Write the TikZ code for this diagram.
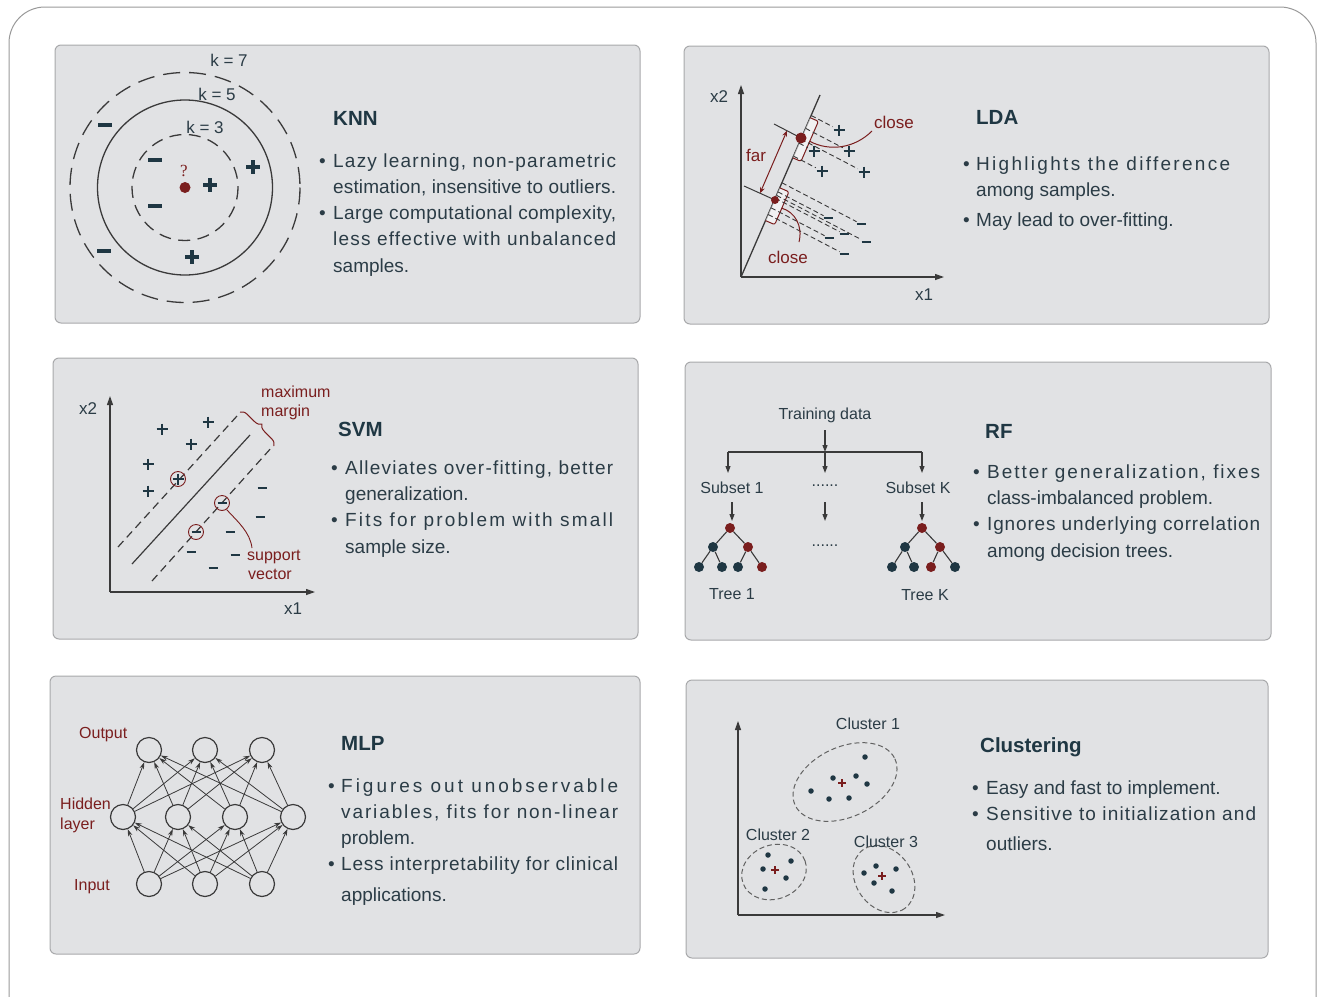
\documentclass[tikz,border=0pt]{standalone}
\usepackage{fontspec}
\setmainfont{Liberation Sans}
\newfontfamily\qfont{Liberation Serif}
\usetikzlibrary{arrows.meta,decorations.pathreplacing,calc}
\definecolor{pfill}{HTML}{E1E2E4}
\definecolor{pborder}{HTML}{A8A9AB}
\definecolor{ink}{HTML}{2B3C46}
\definecolor{mk}{HTML}{1F3743}
\definecolor{dred}{HTML}{7A1E1E}
\definecolor{ln}{HTML}{3A3A3A}
\newlength\jwa
\newlength\jwb
\newcommand\jline[2]{%
  \setbox0\hbox{#2}\global\jwa=\wd0
  \setbox0\hbox{\addfontfeature{LetterSpace=10}#2}\global\jwb=\wd0
  \pgfmathsetmacro\jls{10*(#1-\jwa)/(\jwb-\jwa)}%
  \makebox[#1pt][s]{\addfontfeature{LetterSpace=\jls}#2}}
\tikzset{
  bplus/.pic={\draw[mk,line width=3.2pt] (-7,0)--(7,0) (0,-7)--(0,7);},
  bminus/.pic={\draw[mk,line width=3.8pt] (-7,0)--(7,0);},
  splus/.pic={\draw[mk,line width=2.4pt] (-5.5,0)--(5.5,0) (0,-5.5)--(0,5.5);},
  sminus/.pic={\draw[mk,line width=2pt] (-4.5,0)--(4.5,0);},
  rcross/.pic={\draw[dred,line width=1.3pt] (-4,0)--(4,0) (0,-4)--(0,4);},
}
\begin{document}
\begin{tikzpicture}[x=1pt,y=-1pt,
  panel/.style={draw=pborder,fill=pfill,line width=1pt,rounded corners=6pt},
  body/.style={anchor=base west,inner sep=0pt,text=ink,font=\fontsize{19}{23}\selectfont},
  bul/.style={anchor=base west,inner sep=0pt,text=ink,font=\fontsize{19}{23}\selectfont},
  head/.style={anchor=base west,inner sep=0pt,text=mk,font=\fontsize{20.5}{24}\bfseries\selectfont},
  lbl/.style={inner sep=0pt,text=ink,font=\fontsize{16}{19}\selectfont},
  klbl/.style={inner sep=0pt,text=ink,font=\fontsize{17}{20}\selectfont},
  rlbl/.style={inner sep=0pt,text=dred,font=\fontsize{16}{19}\selectfont},
  rklbl/.style={inner sep=0pt,text=dred,font=\fontsize{17}{20}\selectfont},
  axis/.style={draw=ln,line width=1.2pt,-{Triangle[length=9pt,width=6pt]}},
  arr/.style={draw=ln,line width=1.1pt,-{Triangle[length=7pt,width=5pt]}},
  nnarr/.style={draw=ln,line width=0.8pt,-{Stealth[length=7pt,width=4.5pt]}},
  proj/.style={draw=ln,line width=0.9pt,dash pattern=on 5pt off 3pt},
  tdot/.style={circle,inner sep=0pt,minimum size=10pt},
  neuron/.style={circle,draw=ln,line width=1.2pt,inner sep=0pt,minimum size=25pt},
  svc/.style={circle,draw=dred,line width=0.9pt,inner sep=0pt,minimum size=15pt},
  cdot/.style={circle,fill=mk,inner sep=0pt,minimum size=5.5pt},
  cell/.style={draw=ln!80,line width=1pt,dash pattern=on 5pt off 3pt},
]
\useasboundingbox (0,0) rectangle (1317,996);
\clip (0,0) rectangle (1317,996);
\draw[draw=black!40,line width=1pt,rounded corners=36pt] (9,7) rectangle (1316,1040);

% panels
\draw[panel] (55,45) rectangle (640,323);
\draw[panel] (684,46) rectangle (1269,324);
\draw[panel] (53,358) rectangle (638,639);
\draw[panel] (685,362) rectangle (1271,640);
\draw[panel] (50,676) rectangle (640,954);
\draw[panel] (686,680) rectangle (1268,958);

%%%%%%%%%%%%%%%% KNN
\coordinate (kc) at (185,187.5);
\draw[ln,line width=1.3pt,dash pattern=on 12pt off 7.5pt] (kc) circle [radius=53];
\draw[ln,line width=1.3pt] (kc) circle [radius=87.5];
\draw[ln,line width=1.3pt,dash pattern=on 17pt off 9pt] (kc) circle [radius=115];
\node[klbl] (k7) at (229,60) {k = 7};
\node[klbl] (k5) at (217,94) {k = 5};
\node[klbl] (k3) at (205,127) {k = 3};
\node[circle,fill=dred,inner sep=0pt,minimum size=11pt] (qpt) at (kc) {};
\node[inner sep=0pt,text=dred,font=\fontsize{17}{20}\qfont\selectfont] (qm) at (184,171) {?};
\pic at (105,125) {bminus};
\pic at (155,160) {bminus};
\pic at (253,167) {bplus};
\pic at (210,185) {bplus};
\pic at (155,206) {bminus};
\pic at (104,251) {bminus};
\pic at (192,257) {bplus};

\node[head] (knnh) at (333,125) {KNN};
\node[bul] (knnb1) at (319,167) {•};
\node[body] (knn1) at (333,167) {\jline{283}{Lazy learning, non-parametric}};
\node[body] (knn2) at (333,193) {\jline{283}{estimation, insensitive to outliers.}};
\node[bul] (knnb2) at (319,219) {•};
\node[body] (knn3) at (333,219) {\jline{283}{Large computational complexity,}};
\node[body] (knn4) at (333,245) {\jline{283}{less effective with unbalanced}};
\node[body] (knn5) at (333,272) {samples.};

%%%%%%%%%%%%%%%% LDA
\coordinate (lo) at (741,277);
\coordinate (ly) at (741,85);
\coordinate (lx) at (944,277);
\coordinate (lt) at (820,95);
\draw[axis] (lo) -- (ly);
\draw[axis] (lo) -- (lx);
\draw[ln,line width=1.3pt] (lo) -- (lt);
\node[klbl] (lx2) at (719,97) {x2};
\node[klbl] (lx1) at (924,295) {x1};
% brackets
\draw[dred,line width=1pt,rounded corners=2pt,fill=white,fill opacity=0.55]
  (810.1,117.7) -- (818.4,121.3) -- (801,161.4) -- (792.7,157.8);
\draw[dred,line width=1pt,rounded corners=2pt,fill=white,fill opacity=0.55]
  (779.7,187.8) -- (788.9,191.8) -- (774.7,224.6) -- (765.5,220.6);
% perpendicular lines
\coordinate (ud) at (801,138);
\coordinate (dd) at (775,200);
\coordinate (ua) at (774,124);
\coordinate (da) at (744,186);
\draw[ln,line width=1pt] (ua) -- (ud);
\draw[ln,line width=1pt] (da) -- (dd);
% samples
\foreach \n/\px/\py in {p1/839/130,p2/814/151,p3/849/151,p4/822/171,p5/864/172}{
  \coordinate (\n) at (\px,\py);
  \coordinate (\n q) at ($(\n)+(-71,-37)$);
  \draw[proj,shorten >=7pt] (intersection of lo--lt and \n--\n q) -- (\n);
  \pic at (\n) {splus};
}
\foreach \n/\px/\py in {m1/828/218,m2/861/224,m3/829/238,m4/844/234,m5/866/242,m6/844/254}{
  \coordinate (\n) at (\px,\py);
  \coordinate (\n q) at ($(\n)+(-71,-37)$);
  \draw[proj,shorten >=5pt] (intersection of lo--lt and \n--\n q) -- (\n);
  \pic at (\n) {sminus};
}
\node[circle,fill=dred,inner sep=0pt,minimum size=11pt] (udot) at (ud) {};
\node[circle,fill=dred,inner sep=0pt,minimum size=8pt] (ddot) at (dd) {};
\draw[dred,line width=1pt,{Stealth[length=6pt,width=5pt]}-{Stealth[length=6pt,width=5pt]}] (787,130.7) -- (760,193.2);
\node[rklbl] (far) at (756,155) {far};
\node[rklbl] (close1) at (894,122) {close};
\node[rklbl] (close2) at (788,257) {close};
\draw[dred,line width=1pt] (809.7,141.3) .. controls (830,152) and (855,148) .. (872,131);
\draw[dred,line width=1pt] (781.8,208.2) .. controls (795,212) and (803,226) .. (799,242);

\node[head] (ldah) at (976,124) {LDA};
\node[bul] (ldab1) at (963,170) {•};
\node[body] (lda1) at (976,170) {\jline{254}{Highlights the difference}};
\node[body] (lda2) at (976,196) {among samples.};
\node[bul] (ldab2) at (963,226) {•};
\node[body] (lda3) at (976,226) {May lead to over-fitting.};

%%%%%%%%%%%%%%%% SVM
\coordinate (so) at (110,592);
\coordinate (sy) at (110,396);
\coordinate (sx) at (315,592);
\draw[axis] (so) -- (sy);
\draw[axis] (so) -- (sx);
\node[klbl] (sx2) at (88,409) {x2};
\node[klbl] (sx1) at (293,609) {x1};
\draw[ln,line width=1.2pt] (132,564) -- (250,435);
\draw[ln,line width=1.2pt,dash pattern=on 8pt off 5pt] (118,547) -- (237,416);
\draw[ln,line width=1.2pt,dash pattern=on 8pt off 5pt] (152,581) -- (272,447);
\draw[dred,line width=1pt,decorate,decoration={brace,amplitude=7pt}] (240,412) -- (274,446);
\node[rlbl,anchor=base west] (mm1) at (261,397) {maximum};
\node[rlbl,anchor=base west] (mm2) at (261,416) {margin};
\foreach \px/\py in {162/429,208/422,191/444,148/464,148/491,178/479}{\pic at (\px,\py) {splus};}
\foreach \px/\py in {262/488,222/503,260/517,196/532,230/532,191/552,235/555,213/568}{\pic at (\px,\py) {sminus};}
\node[svc] (sv1) at (178,479) {};
\node[svc] (sv2) at (222,503) {};
\node[svc] (sv3) at (196,532) {};
\draw[dred,line width=0.9pt] (sv2.-55) .. controls (238,522) and (250,532) .. (252,548);
\node[rlbl,anchor=base west] (sv1l) at (247,560) {support};
\node[rlbl,anchor=base west] (sv2l) at (248,579) {vector};

\node[head] (svmh) at (338,436) {SVM};
\node[bul] (svmb1) at (331,474) {•};
\node[body] (svm1) at (345,474) {\jline{268}{Alleviates over-fitting, better}};
\node[body] (svm2) at (345,500) {generalization.};
\node[bul] (svmb2) at (331,526) {•};
\node[body] (svm3) at (345,526) {\jline{268}{Fits for problem with small}};
\node[body] (svm4) at (345,553) {sample size.};

%%%%%%%%%%%%%%%% RF
\node[lbl] (td) at (825,415) {Training data};
\coordinate (tj) at (825,452);
\coordinate (tl) at (728,452);
\coordinate (tr) at (922,452);
\draw[arr] (825,430) -- (tj);
\draw[draw=ln,line width=1.1pt] (tl) -- (tr);
\node[lbl] (s1) at (732,488) {Subset 1};
\node[lbl] (sm) at (825,486) {......};
\node[lbl] (sk) at (918,488) {Subset K};
\draw[arr] (tl) -- (728,473);
\draw[arr] (tj) -- (825,473);
\draw[arr] (tr) -- (922,473);
\draw[arr] (732,502) -- (732,521);
\draw[arr] (825,502) -- (825,521);
\draw[arr] (922,502) -- (922,521);
\node[lbl] (dm) at (825,546) {......};
% tree 1
\node[tdot,fill=dred] (ar) at (730,528) {};
\node[tdot,fill=mk] (aa) at (713,547) {};
\node[tdot,fill=dred] (ab) at (748,547) {};
\node[tdot,fill=mk] (al1) at (699,567) {};
\node[tdot,fill=mk] (al2) at (722,567) {};
\node[tdot,fill=mk] (al3) at (738,567) {};
\node[tdot,fill=dred] (al4) at (762,567) {};
\draw[ln,line width=1.1pt] (ar) -- (aa) (ar) -- (ab) (aa) -- (al1) (aa) -- (al2) (ab) -- (al3) (ab) -- (al4);
% tree K
\node[tdot,fill=dred] (br) at (922,528) {};
\node[tdot,fill=mk] (ba) at (905,547) {};
\node[tdot,fill=dred] (bb) at (940,547) {};
\node[tdot,fill=mk] (bl1) at (892,567) {};
\node[tdot,fill=mk] (bl2) at (914,567) {};
\node[tdot,fill=dred] (bl3) at (931,567) {};
\node[tdot,fill=mk] (bl4) at (955,567) {};
\draw[ln,line width=1.1pt] (br) -- (ba) (br) -- (bb) (ba) -- (bl1) (ba) -- (bl2) (bb) -- (bl3) (bb) -- (bl4);
\node[lbl] (t1) at (732,594) {Tree 1};
\node[lbl] (tk) at (925,595) {Tree K};

\node[head] (rfh) at (985,438) {RF};
\node[bul] (rfb1) at (973,478) {•};
\node[body] (rf1) at (987,478) {\jline{273}{Better generalization, fixes}};
\node[body] (rf2) at (987,504) {class-imbalanced problem.};
\node[bul] (rfb2) at (973,530) {•};
\node[body] (rf3) at (987,530) {\jline{273}{Ignores underlying correlation}};
\node[body] (rf4) at (987,557) {among decision trees.};

%%%%%%%%%%%%%%%% MLP
\node[neuron] (o1) at (149,750) {};
\node[neuron] (o2) at (205,750) {};
\node[neuron] (o3) at (262,750) {};
\node[neuron] (h1) at (123,817) {};
\node[neuron] (h2) at (178,817) {};
\node[neuron] (h3) at (235,817) {};
\node[neuron] (h4) at (293,817) {};
\node[neuron] (i1) at (149,884) {};
\node[neuron] (i2) at (205,884) {};
\node[neuron] (i3) at (262,884) {};
\foreach \a in {1,...,4}{\foreach \b in {1,2,3}{\draw[nnarr] (h\a) -- (o\b);}}
\foreach \a in {1,2,3}{\foreach \b in {1,...,4}{\draw[nnarr] (i\a) -- (h\b);}}
\node[rlbl,anchor=base west] (outl) at (79,738) {Output};
\node[rlbl,anchor=base west] (hidl) at (60,809) {Hidden};
\node[rlbl,anchor=base west] (layl) at (60,829) {layer};
\node[rlbl,anchor=base west] (inl) at (74,890) {Input};

\node[head] (mlph) at (341,750) {MLP};
\node[bul] (mlpb1) at (328,792) {•};
\node[body] (mlp1) at (341,792) {\jline{277}{Figures out unobservable}};
\node[body] (mlp2) at (341,818) {\jline{277}{variables, fits for non-linear}};
\node[body] (mlp3) at (341,844) {problem.};
\node[bul] (mlpb2) at (328,870) {•};
\node[body] (mlp4) at (341,870) {\jline{277}{Less interpretability for clinical}};
\node[body] (mlp5) at (341,901) {applications.};

%%%%%%%%%%%%%%%% Clustering
\coordinate (co) at (738,915);
\coordinate (cy) at (738,721);
\coordinate (cx) at (945,915);
\draw[axis] (co) -- (cy);
\draw[axis] (co) -- (cx);
\coordinate (c1) at (845,782);
\coordinate (c2) at (774,872);
\coordinate (c3) at (884,879);
\draw[cell,rotate around={25:(c1)}] (c1) ellipse [x radius=55,y radius=35];
\draw[cell,rotate around={20:(c2)}] (c2) ellipse [x radius=33,y radius=27];
\draw[cell,rotate around={-55:(c3)}] (c3) ellipse [x radius=36,y radius=28];
\foreach \px/\py in {865/757,833/778,856/776,867/784,811/791,829/799,849/798,
                     768/855,791/861,763/869,786/878,765/889,
                     876/866,896/869,864/873,874/883,892/891}{\node[cdot] at (\px,\py) {};}
\pic at (842,783) {rcross};
\pic at (775,870) {rcross};
\pic at (882,876) {rcross};
\node[lbl] (cl1) at (868,724) {Cluster 1};
\node[lbl] (cl2) at (778,835) {Cluster 2};
\node[lbl] (cl3) at (886,842) {Cluster 3};

\node[head] (clh) at (980,752) {Clustering};
\node[bul] (clb1) at (972,794) {•};
\node[body] (cl1t) at (986,794) {Easy and fast to implement.};
\node[bul] (clb2) at (972,820) {•};
\node[body] (cl2t) at (986,820) {\jline{270}{Sensitive to initialization and}};
\node[body] (cl3t) at (986,850) {outliers.};
\end{tikzpicture}
\end{document}
